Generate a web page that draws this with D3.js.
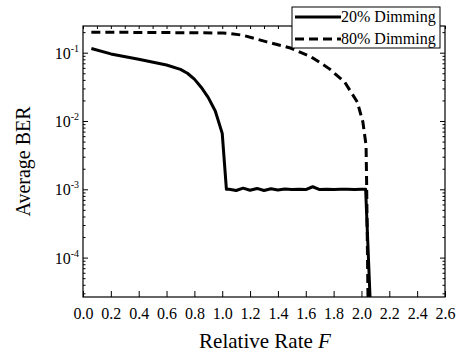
<!DOCTYPE html>
<html>
<head>
<meta charset="utf-8">
<script src="https://cdn.jsdelivr.net/npm/d3@7"></script>
<style>
  body { margin: 0; background: #fff; }
  svg text { font-family: "Liberation Serif", "Times New Roman", serif; }
</style>
</head>
<body>
<svg width="456" height="356"></svg>
<script>
const rate_20 = [0.06, 0.2, 0.4, 0.6, 0.7, 0.75, 0.8, 0.85, 0.9, 0.95, 1.0, 1.03,
  1.05, 1.1, 1.15, 1.2, 1.25, 1.3, 1.35, 1.4, 1.45, 1.5, 1.55, 1.6, 1.65, 1.7,
  1.75, 1.8, 1.85, 1.9, 1.95, 2.0, 2.03, 2.062];
const ber_20 = [0.115, 0.096, 0.080, 0.066, 0.057, 0.050, 0.041, 0.031, 0.022, 0.014, 0.0066, 0.001,
  0.00100, 0.00096, 0.00104, 0.00097, 0.00103, 0.00096, 0.00102, 0.00098, 0.00101, 0.00099,
  0.00100, 0.00099, 0.00109, 0.00099, 0.00100, 0.00099, 0.00100, 0.00100, 0.00099, 0.00100,
  0.00100, 0.000025];

const rate_80 = [0.06, 0.4, 0.8, 1.0, 1.05, 1.15, 1.32, 1.49, 1.64, 1.77, 1.88,
  1.97, 2.01, 2.033, 2.037, 2.047];
const ber_80 = [0.200, 0.198, 0.196, 0.194, 0.192, 0.180, 0.144, 0.117, 0.0865, 0.058, 0.037,
  0.019, 0.0097, 0.0044, 0.0013, 0.000025];

const series_names = ["20% Dimming", "80% Dimming"];
const x_ticks = d3.range(0, 2.61, 0.2);
const y_ticks = [1e-1, 1e-2, 1e-3, 1e-4];
const y_tick_exps = ["-1", "-2", "-3", "-4"];

const svg = d3.select("svg");
const width = +svg.attr("width");
const height = +svg.attr("height");
const margin = { top: 26, right: 11, bottom: 59, left: 83 };
const inner_width = width - margin.left - margin.right;
const inner_height = height - margin.top - margin.bottom;

const x_scale = d3.scaleLinear().domain([0, 2.6]).range([0, inner_width]);
const y_scale = d3.scaleLog().domain([2.65e-5, 0.246]).range([inner_height, 0]);

const g = svg.append("g")
  .attr("transform", `translate(${margin.left},${margin.top})`);

g.append("clipPath").attr("id", "clip")
  .append("rect").attr("width", inner_width).attr("height", inner_height);

// minor log ticks
const minor = [];
[-5, -4, -3, -2, -1].forEach((e) => {
  for (let k = 2; k <= 9; k++) {
    const v = k * Math.pow(10, e);
    if (v >= y_scale.domain()[0] && v <= y_scale.domain()[1]) minor.push(v);
  }
});

const styleAxis = (sel) => {
  sel.attr("font-family", null);
  sel.select(".domain").remove();
  sel.selectAll("line").attr("stroke", "#000").attr("stroke-width", 1);
};

// bottom
g.append("g")
  .attr("transform", `translate(0,${inner_height})`)
  .call(d3.axisBottom(x_scale).tickValues(x_ticks).tickSizeInner(-6).tickSizeOuter(0)
    .tickFormat(d3.format(".1f")))
  .call(styleAxis)
  .call((a) => a.selectAll("text")
    .attr("y", 11).attr("font-size", 16).attr("fill", "#000"));

// top
g.append("g")
  .call(d3.axisTop(x_scale).tickValues(d3.range(0, 2.61, 0.1)).tickSizeInner(-3)
    .tickSizeOuter(0).tickFormat(""))
  .call(styleAxis);

// left
g.append("g")
  .call(d3.axisLeft(y_scale).tickValues(y_ticks).tickSizeInner(-5).tickSizeOuter(0).tickFormat(""))
  .call(styleAxis);
g.append("g")
  .call(d3.axisLeft(y_scale).tickValues(minor).tickSizeInner(-2.5).tickSizeOuter(0).tickFormat(""))
  .call(styleAxis);

// right
g.append("g")
  .attr("transform", `translate(${inner_width},0)`)
  .call(d3.axisRight(y_scale).tickValues(y_ticks).tickSizeInner(-5).tickSizeOuter(0).tickFormat(""))
  .call(styleAxis);
g.append("g")
  .attr("transform", `translate(${inner_width},0)`)
  .call(d3.axisRight(y_scale).tickValues(minor).tickSizeInner(-2.5).tickSizeOuter(0).tickFormat(""))
  .call(styleAxis);

// y tick labels 10^n
const ylab = g.append("g").selectAll("text")
  .data(y_ticks)
  .enter()
  .append("text")
  .attr("x", -4)
  .attr("y", (d) => y_scale(d) + 6)
  .attr("text-anchor", "end")
  .attr("font-size", 16);
ylab.append("tspan").text("10");
ylab.append("tspan")
  .attr("dy", -7)
  .attr("font-size", 10)
  .text((d, i) => y_tick_exps[i]);

// frame
g.append("rect")
  .attr("width", inner_width).attr("height", inner_height)
  .attr("fill", "none").attr("stroke", "#000").attr("stroke-width", 1.2);

// lines
const line = d3.line().x((d) => x_scale(d[0])).y((d) => y_scale(d[1]));
const lines_g = g.append("g").attr("clip-path", "url(#clip)");
lines_g.append("path")
  .attr("d", line(rate_20.map((r, i) => [r, ber_20[i]])))
  .attr("fill", "none").attr("stroke", "#000").attr("stroke-width", 3)
  .attr("stroke-linejoin", "round");
lines_g.append("path")
  .attr("d", line(rate_80.map((r, i) => [r, ber_80[i]])))
  .attr("fill", "none").attr("stroke", "#000").attr("stroke-width", 3)
  .attr("stroke-dasharray", "9,5");

// axis titles
svg.append("text")
  .attr("x", margin.left + inner_width / 2 + 1)
  .attr("y", 348)
  .attr("text-anchor", "middle")
  .attr("font-size", 21)
  .call((t) => {
    t.append("tspan").text("Relative Rate ");
    t.append("tspan").attr("font-style", "italic").text("F");
  });

svg.append("text")
  .attr("transform", `translate(30,${margin.top + inner_height / 2}) rotate(-90)`)
  .attr("text-anchor", "middle")
  .attr("font-size", 20)
  .text("Average BER");

// legend
const legend = svg.append("g").attr("transform", "translate(292,7)");
legend.append("rect")
  .attr("width", 148).attr("height", 41)
  .attr("fill", "#fff").attr("stroke", "#000").attr("stroke-width", 1);
const items = legend.selectAll("g.item")
  .data(series_names)
  .enter()
  .append("g")
  .attr("class", "item")
  .attr("transform", (d, i) => `translate(0,${10 + i * 22})`);
items.append("line")
  .attr("x1", 3).attr("x2", 49)
  .attr("stroke", "#000").attr("stroke-width", 3)
  .attr("stroke-dasharray", (d, i) => (i === 0 ? null : "9,5"));
items.append("text")
  .attr("x", 49).attr("y", 5)
  .attr("font-size", 16)
  .text((d) => d);
</script>
</body>
</html>
